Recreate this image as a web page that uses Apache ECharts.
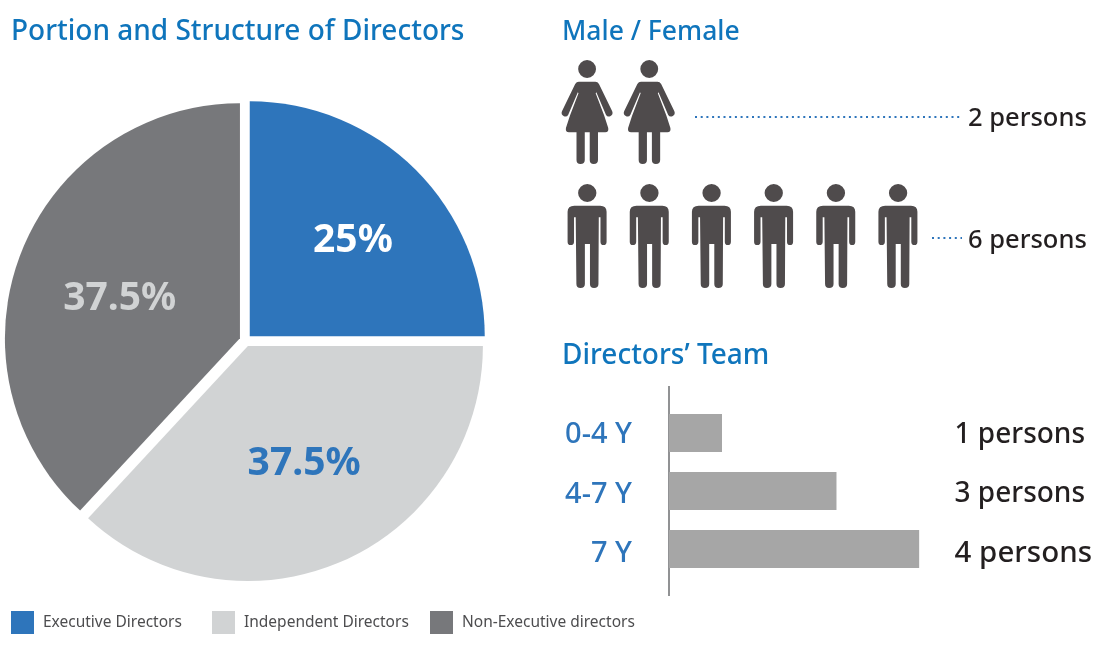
<!DOCTYPE html>
<html>
<head>
<meta charset="utf-8">
<title>Directors</title>
<style>
  html, body { margin: 0; padding: 0; background: #fff; }
  #chart { width: 1095px; height: 656px; }
</style>
</head>
<body>
<div id="chart"></div>
<script src="https://cdn.jsdelivr.net/npm/echarts@6/dist/echarts.min.js"></script>
<script>
var boardNames = ['Executive Directors', 'Independent Directors', 'Non-Executive directors']
// slices as drawn in the picture, the printed shares differ slightly
var boardSlices = [25, 36.9, 38.1]
var boardShareLabels = ['25%', '37.5%', '37.5%']
var genderNames = ['Female', 'Male']
var genderCounts = [2, 6]
var tenureNames = ['0-4 Y', '4-7 Y', '7 Y']
var tenureBarLengths = [1, 3.16, 4.72]
var tenureCounts = [1, 3, 4]

var FONT = '"Noto Sans", sans-serif'
var BLUE = '#2e75bb'
var TITLE_BLUE = '#0f75bc'
var INK = '#231f20'
var sliceColors = [BLUE, '#d1d3d4', '#77787b']
var shareLabelColors = ['#ffffff', BLUE, '#d1d3d4']
var shareLabelShift = [[18, -10], [8, 7], [-8, 5]]
var legendLeft = [11, 212, 430]

var headPath = (cx, cy) => 'M' + (cx - 27) + ' ' + cy + ' A27 27 0 1 1 ' + (cx + 27) + ' ' + cy + ' A27 27 0 1 1 ' + (cx - 27) + ' ' + cy + ' Z '
var femaleIcon = 'path://' + headPath(110, 55) +
  'M85 93 L135 93 Q142 93 146 100 L186 182 Q190 192 180 197 Q171 200 167 192 L138 125 L136 128 L162 195 L174 232 Q176 245 165 245 ' +
  'L143 245 L143 328 Q143 340 130 340 Q118 340 118 328 L118 245 L103 245 L103 328 Q103 340 90 340 Q78 340 78 328 L78 245 ' +
  'L55 245 Q44 245 46 232 L58 195 L84 128 L82 125 L53 192 Q49 200 40 197 Q30 192 34 182 L74 100 Q78 93 85 93 Z'
var maleIcon = 'path://' + headPath(110, 52) +
  'M72 90 L148 90 Q167 90 167 108 L167 198 Q167 208 158 208 Q149 208 149 198 L149 125 L144 125 L143 325 Q143 337 130 337 ' +
  'Q118 337 118 325 L118 205 L103 205 L103 325 Q103 337 90 337 Q78 337 78 325 L76 125 L71 125 L71 198 Q71 208 61 208 ' +
  'Q52 208 52 198 L52 108 Q52 90 72 90 Z'

var personLabel = n => n + ' persons'

function headTitle(text, left, top, size) {
  return {
    text: text,
    left: left,
    top: top,
    padding: 0,
    textStyle: { fontFamily: FONT, fontSize: size, fontWeight: 500, color: TITLE_BLUE }
  }
}

function dotted(x1, x2, y) {
  return {
    type: 'line',
    silent: true,
    shape: { x1: x1, y1: y, x2: x2, y2: y },
    style: { stroke: BLUE, lineWidth: 2, lineDash: [2, 3.7] }
  }
}

var chart = echarts.init(document.getElementById('chart'))
chart.setOption({
  animation: false,
  backgroundColor: '#fff',
  title: [
    headTitle('Portion and Structure of Directors', 11, 18, 28),
    headTitle('Male / Female', 562, 19, 26.5),
    headTitle('Directors’ Team', 562, 342, 28)
  ],
  legend: boardNames.map((name, i) => ({
    data: [name],
    left: legendLeft[i],
    top: 611,
    padding: 0,
    icon: 'rect',
    itemWidth: 23,
    itemHeight: 23,
    selectedMode: false,
    textStyle: { fontFamily: FONT, fontSize: 15.5, color: '#4d4d4f', padding: [4, 0, 0, 4] }
  })),
  // 0: people icons, 1: tenure bars, 2 and 3: their text rows, which sit a little off the marks
  grid: [
    { left: 556, top: 50, width: 373, height: 248 },
    { left: 669, top: 404, width: 265, height: 174 },
    { left: 556, top: 58, width: 373, height: 244 },
    { left: 669, top: 405, width: 265, height: 178.5 }
  ],
  xAxis: [
    { gridIndex: 0, type: 'value', min: 0, max: 6, show: false },
    { gridIndex: 1, type: 'value', min: 0, max: 5, show: false },
    { gridIndex: 2, type: 'value', min: 0, max: 6, show: false },
    { gridIndex: 3, type: 'value', min: 0, max: 5, show: false }
  ],
  yAxis: [
    { gridIndex: 0, type: 'category', inverse: true, data: genderNames, show: false },
    { gridIndex: 1, type: 'category', inverse: true, data: tenureNames, show: false },
    {
      gridIndex: 2,
      type: 'category',
      inverse: true,
      position: 'right',
      data: genderCounts.map(personLabel),
      axisLine: { show: false },
      axisTick: { show: false },
      axisLabel: { margin: 39, fontFamily: FONT, fontSize: 25.5, fontWeight: 500, color: INK }
    },
    {
      gridIndex: 3,
      type: 'category',
      inverse: true,
      data: tenureNames,
      axisLine: { show: false },
      axisTick: { show: false },
      axisLabel: { margin: 37, fontFamily: FONT, fontSize: 29, fontWeight: 500, color: BLUE }
    },
    {
      gridIndex: 3,
      type: 'category',
      inverse: true,
      position: 'right',
      data: tenureCounts.map((n, i) => ({
        value: personLabel(n),
        textStyle: { fontSize: i === 2 ? 29.5 : 28 }
      })),
      axisLine: { show: false },
      axisTick: { show: false },
      axisLabel: { margin: 23, fontFamily: FONT, fontWeight: 500, color: INK }
    }
  ],
  series: [
    {
      type: 'pie',
      center: [245.5, 340.5],
      radius: 235,
      startAngle: 90,
      selectedMode: 'multiple',
      selectedOffset: 6,
      emphasis: { disabled: true },
      labelLine: { show: false },
      label: {
        position: 'inside',
        fontFamily: FONT,
        fontSize: 39,
        fontWeight: 'bold'
      },
      labelLayout: p => ({ dx: shareLabelShift[p.dataIndex][0], dy: shareLabelShift[p.dataIndex][1] }),
      data: boardNames.map((name, i) => ({
        name: name,
        value: boardSlices[i],
        selected: true,
        itemStyle: { color: sliceColors[i] },
        label: { formatter: boardShareLabels[i], color: shareLabelColors[i] }
      }))
    },
    {
      type: 'pictorialBar',
      xAxisIndex: 0,
      yAxisIndex: 0,
      symbolPosition: 'start',
      itemStyle: { color: '#4f4b4c' },
      data: genderCounts.map((n, i) => ({
        value: n,
        symbol: i === 0 ? femaleIcon : maleIcon,
        symbolSize: i === 0 ? [51, 104] : [39, 104],
        symbolRepeat: n,
        symbolBoundingData: n,
        symbolMargin: '0!'
      }))
    },
    {
      type: 'bar',
      xAxisIndex: 1,
      yAxisIndex: 1,
      barWidth: 38,
      itemStyle: { color: '#a6a6a6' },
      data: tenureBarLengths
    }
  ],
  graphic: [
    dotted(695, 960, 117),
    dotted(932, 962, 238),
    {
      type: 'line',
      silent: true,
      shape: { x1: 669, y1: 386, x2: 669, y2: 596 },
      style: { stroke: '#6d6e71', lineWidth: 1.5 }
    }
  ]
})
</script>
</body>
</html>
